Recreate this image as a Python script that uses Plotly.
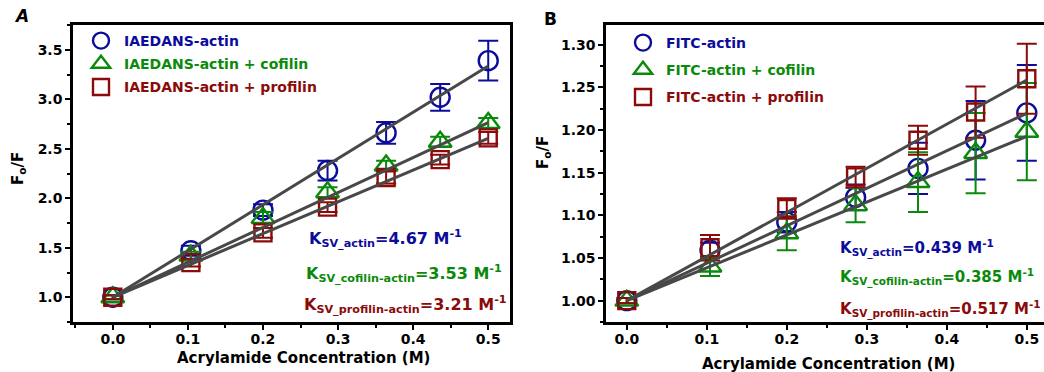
import plotly.graph_objects as go

# ---------------- data ----------------
conc = [0.0, 0.104, 0.2, 0.286, 0.364, 0.436, 0.5]

# Panel A (IAEDANS)
a_actin = [1.0, 1.47, 1.88, 2.28, 2.66, 3.02, 3.39]
a_actin_err = [0.02, 0.05, 0.06, 0.10, 0.11, 0.135, 0.20]
a_cofilin = [1.0, 1.42, 1.80, 2.06, 2.33, 2.57, 2.76]
a_cofilin_err = [0.02, 0.04, 0.06, 0.05, 0.05, 0.05, 0.05]
a_profilin = [1.0, 1.35, 1.65, 1.91, 2.21, 2.39, 2.61]
a_profilin_err = [0.02, 0.04, 0.05, 0.05, 0.06, 0.05, 0.06]
a_ksv = [4.67, 3.53, 3.21]

# Panel B (FITC)
b_actin = [1.0, 1.059, 1.092, 1.121, 1.155, 1.188, 1.220]
b_actin_err = [0.003, 0.009, 0.012, 0.015, 0.030, 0.046, 0.056]
b_cofilin = [1.0, 1.040, 1.079, 1.112, 1.139, 1.173, 1.198]
b_cofilin_err = [0.003, 0.011, 0.020, 0.020, 0.035, 0.047, 0.057]
b_profilin = [1.0, 1.062, 1.108, 1.145, 1.188, 1.221, 1.260]
b_profilin_err = [0.003, 0.015, 0.012, 0.012, 0.017, 0.030, 0.041]
b_ksv = [0.439, 0.385, 0.517]

fit_x = [0.0, 0.5]

labels_a = ["IAEDANS-actin", "IAEDANS-actin + cofilin", "IAEDANS-actin + profilin"]
labels_b = ["FITC-actin", "FITC-actin + cofilin", "FITC-actin + profilin"]
sub_labels = ["SV_actin", "SV_cofilin-actin", "SV_profilin-actin"]
x_ticks = [0.0, 0.1, 0.2, 0.3, 0.4, 0.5]
a_yticks = [1.0, 1.5, 2.0, 2.5, 3.0, 3.5]
b_yticks = [1.00, 1.05, 1.10, 1.15, 1.20, 1.25, 1.30]

# ---------------- style ----------------
colors = ["#0c0c9c", "#0a8a0a", "#8b0a0a"]
symbols = ["circle-open", "triangle-up-open", "square-open"]
sizes = [19, 20, 17]
FONT = "DejaVu Sans"
W, H = 1044, 372
ML, MT, MB = 0, 25, 50
plot_h = H - MT - MB

def px_x(p):
    return p / W

def px_y(p):
    # paper y from pixel y (plot area from MT to H-MB)
    return (H - MB - p) / plot_h

fig = go.Figure()

panels = [
    ("x", "y", "legend", [a_actin, a_cofilin, a_profilin],
     [a_actin_err, a_cofilin_err, a_profilin_err], a_ksv, labels_a),
    ("x2", "y2", "legend2", [b_actin, b_cofilin, b_profilin],
     [b_actin_err, b_cofilin_err, b_profilin_err], b_ksv, labels_b),
]

for xa, ya, leg, series, errs, ksv, labels in panels:
    for i in range(3):
        fig.add_trace(go.Scatter(
            x=conc, y=series[i], mode="markers", xaxis=xa, yaxis=ya,
            name=f"<span style='color:{colors[i]}'>{labels[i]}</span>",
            legend=leg, legendgroup=f"{leg}{i}",
            marker=dict(symbol=symbols[i], size=sizes[i], color=colors[i],
                        line=dict(width=2.4, color=colors[i])),
            error_y=dict(type="data", array=errs[i], visible=True,
                         color=colors[i], thickness=2, width=10),
            cliponaxis=False,
        ))
    for i in range(3):
        fig.add_trace(go.Scatter(
            x=fit_x, y=[1 + ksv[i] * fx for fx in fit_x], mode="lines",
            xaxis=xa, yaxis=ya, showlegend=False,
            line=dict(color="#484848", width=3),
        ))

axis_common = dict(
    showline=True, linecolor="black", linewidth=2.5, ticks="outside",
    ticklen=5, tickwidth=2, tickcolor="black", showgrid=False, zeroline=False,
    tickfont=dict(family=FONT, size=14, color="black", weight="bold"),
)

fig.update_layout(
    width=W, height=H,
    margin=dict(l=ML, r=0, t=MT, b=MB),
    paper_bgcolor="white", plot_bgcolor="white",
    showlegend=True,
    xaxis=dict(domain=[px_x(73), px_x(510)], range=[-0.053, 0.529],
               tickvals=x_ticks, ticktext=[f"{v:.1f}" for v in x_ticks],
               mirror=True, anchor="y", ticklabelstandoff=-3,
               minor=dict(ticks="outside", dtick=0.05, tick0=0, ticklen=3,
                          tickwidth=2, tickcolor="black"),
               **axis_common),
    yaxis=dict(domain=[0, 1], range=[0.75, 3.75], anchor="x",
               tickvals=a_yticks, ticktext=[f"{v:.1f}" for v in a_yticks],
               mirror=True,
               minor=dict(ticks="outside", dtick=0.25, tick0=0, ticklen=3,
                          tickwidth=2, tickcolor="black"),
               **axis_common),
    xaxis2=dict(domain=[px_x(606), 1.0], range=[-0.026, 0.5215],
                tickvals=x_ticks, ticktext=[f"{v:.1f}" for v in x_ticks],
                mirror=True, anchor="y2", ticklabelstandoff=-3,
                minor=dict(ticks="outside", dtick=0.05, tick0=0, ticklen=3,
                           tickwidth=2, tickcolor="black"),
                **axis_common),
    yaxis2=dict(domain=[0, 1], range=[0.975, 1.323], anchor="x2",
                tickvals=b_yticks, ticktext=[f"{v:.2f}" for v in b_yticks],
                minor=dict(ticks="outside", dtick=0.025, tick0=0, ticklen=3,
                           tickwidth=2, tickcolor="black"),
                **axis_common),
    legend=dict(x=px_x(78), y=px_y(25), xanchor="left", yanchor="top",
                bgcolor="rgba(0,0,0,0)", tracegroupgap=2, itemwidth=36,
                font=dict(family=FONT, size=14, weight="bold")),
    legend2=dict(x=px_x(620), y=px_y(27), xanchor="left", yanchor="top",
                 bgcolor="rgba(0,0,0,0)", tracegroupgap=6, itemwidth=36,
                 font=dict(family=FONT, size=14, weight="bold")),
)

ann = []
# panel letters
ann.append(dict(text="<i>A</i>", x=px_x(12), y=px_y(16), xref="paper", yref="paper",
                xanchor="left", yanchor="middle", showarrow=False,
                font=dict(family=FONT, size=17, color="black", weight="bold")))
ann.append(dict(text="B", x=px_x(542), y=px_y(19), xref="paper", yref="paper",
                xanchor="left", yanchor="middle", showarrow=False,
                font=dict(family=FONT, size=17, color="black", weight="bold")))
# axis titles
for xc, yc in [(18, 169), (543, 153)]:
    ann.append(dict(text="F<sub>o</sub>/F", x=px_x(xc), y=px_y(yc),
                    xref="paper", yref="paper", textangle=-90,
                    xanchor="center", yanchor="middle", showarrow=False,
                    font=dict(family=FONT, size=15, color="black", weight="bold")))
for xc, yc in [(303, 358), (828, 364)]:
    ann.append(dict(text="Acrylamide Concentration (M)", x=px_x(xc), y=px_y(yc),
                    xref="paper", yref="paper", xanchor="center", yanchor="middle",
                    showarrow=False,
                    font=dict(family=FONT, size=15, color="black", weight="bold")))
# K_SV labels
k_pos_a = [(307, 238), (304, 273), (302, 304)]
k_pos_b = [(838, 248), (838, 277), (838, 309)]
sizes_k = [16, 15]
for p, (ksv, positions, fmt) in enumerate([(a_ksv, k_pos_a, "{:.2f}"),
                                           (b_ksv, k_pos_b, "{:.3f}")]):
    for i in range(3):
        txt = (f"K<sub>{sub_labels[i]}</sub>=" + fmt.format(ksv[i]) +
               " M<sup>-1</sup>")
        px, py = positions[i]
        ann.append(dict(text=txt, x=px_x(px), y=px_y(py),
                        xref="paper", yref="paper", xanchor="left",
                        yanchor="middle", showarrow=False,
                        font=dict(family=FONT, size=sizes_k[p], color=colors[i],
                                  weight="bold")))
fig.update_layout(annotations=ann)

fig.write_html("out.html")
